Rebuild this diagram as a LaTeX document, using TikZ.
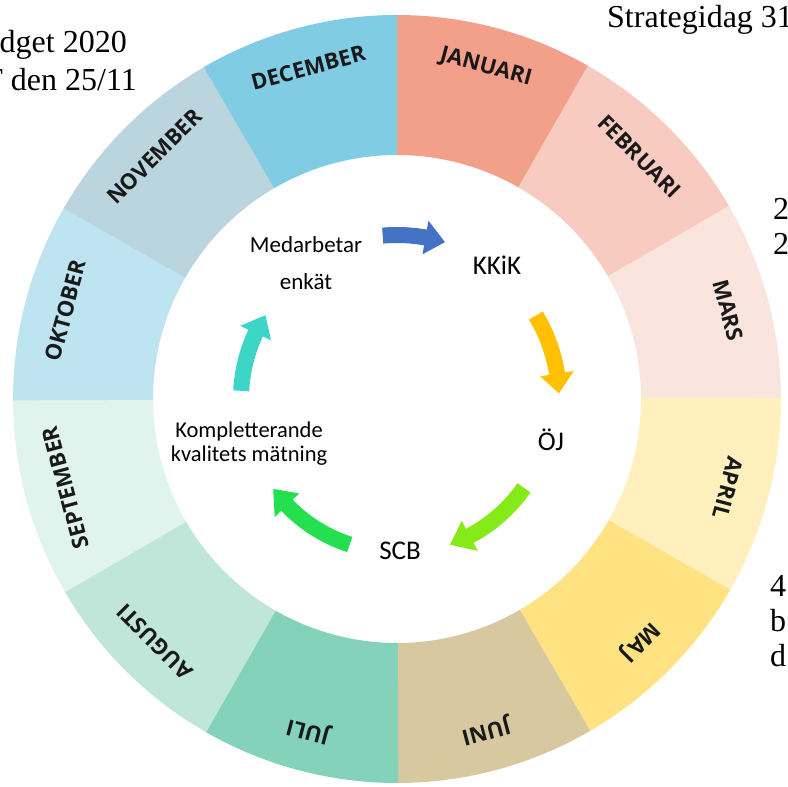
\documentclass[tikz,border=0pt]{standalone}
\usepackage{fontspec}
\setmainfont{Liberation Serif}
\newfontfamily\calfont{Carlito}
\newfontfamily\osfont{Open Sans}
\definecolor{cJan}{HTML}{F2A08A}
\definecolor{cFeb}{HTML}{F7CBBF}
\definecolor{cMar}{HTML}{F9E5DE}
\definecolor{cApr}{HTML}{FFF0BE}
\definecolor{cMaj}{HTML}{FFE282}
\definecolor{cJun}{HTML}{D8C8A0}
\definecolor{cJul}{HTML}{84D2B9}
\definecolor{cAug}{HTML}{C0E6D9}
\definecolor{cSep}{HTML}{E0F3EC}
\definecolor{cOkt}{HTML}{BEE3F1}
\definecolor{cNov}{HTML}{BAD5DE}
\definecolor{cDec}{HTML}{80CCE4}
\definecolor{aBlue}{HTML}{4472C4}
\definecolor{aGold}{HTML}{FFC000}
\definecolor{aLime}{HTML}{86EA18}
\definecolor{aGreen}{HTML}{24E04F}
\definecolor{aTeal}{HTML}{3DD5C6}
\newcommand\cycarrow[6]{% name, color, radius, start, base, tip
  \coordinate (#1s) at ({#4}:{#3});
  \coordinate (#1t) at ({#6}:{#3});
  \draw[line width=16pt, #2] (#1s) arc[start angle=#4, end angle={#5-0.6}, radius=#3];
  \fill[#2] ({#5}:{#3+17}) -- (#1t) -- ({#5}:{#3-17}) -- cycle;}
\begin{document}
\begin{tikzpicture}[x=1pt,y=1pt,
  month/.style={font=\osfont\bfseries\fontsize{22}{26}\selectfont, text=black!90, inner sep=0pt},
  innertxt/.style={font=\calfont\fontsize{23}{37}\selectfont, align=center, inner sep=0pt},
  smalltxt/.style={font=\calfont\fontsize{22.5}{24}\selectfont, align=center, inner sep=0pt},
  bigtxt/.style={font=\calfont\fontsize{27}{32}\selectfont, inner sep=0pt},
  side/.style={font=\fontsize{32}{36}\selectfont, inner sep=0pt}]
\useasboundingbox (0,0) rectangle (788,787);
\clip (0,0) rectangle (788,787);
\begin{scope}[shift={(397,388)}]
  \foreach \a/\c in {60/cJan,30/cFeb,0/cMar,-30/cApr,-60/cMaj,-90/cJun,-120/cJul,-150/cAug,-180/cSep,-210/cOkt,-240/cNov,-270/cDec} {
    \fill[\c] (\a:384) arc[start angle=\a, end angle=\a+30.2, radius=384]
      -- ({\a+30.2}:244) arc[start angle=\a+30.2, end angle=\a, radius=244] -- cycle;
  }
  \foreach \t [count=\i] in {JANUARI,FEBRUARI,MARS,APRIL,MAJ,JUNI,JULI,AUGUSTI,SEPTEMBER,OKTOBER,NOVEMBER,DECEMBER} {
    \node[month, rotate={75-30*(\i-1)-90}] (m\i) at ({75-30*(\i-1)}:343) {\t};
  }
  \cycarrow{ab}{aBlue}{164}{95}{80}{73}
  \cycarrow{ay}{aGold}{162}{31}{9}{2}
  \cycarrow{al}{aLime}{155}{-35}{-62}{-70}
  \cycarrow{ag}{aGreen}{153}{-108}{-136}{-144}
  \cycarrow{at}{aTeal}{156}{177}{155}{147.5}
\end{scope}
\node[innertxt] (med) at (306,524) {Medarbetar\\enkät};
\node[bigtxt] (kkik) at (497,522) {KKiK};
\node[bigtxt] (oj) at (551,347) {ÖJ};
\node[bigtxt] (scb) at (400,236) {SCB};
\node[smalltxt] (komp) at (249,343) {Kompletterande\\kvalitets mätning};
\node[side, anchor=base east] (t1) at (127,734) {dget 2020};
\node[side, anchor=base east] (t2) at (137,696) {T den 25/11};
\node[side, anchor=base west] (t3) at (607,759) {Strategidag 31};
\node[side, anchor=base west] (t4) at (773,567) {2};
\node[side, anchor=base west] (t5) at (773,532) {2};
\node[side, anchor=base west] (t6) at (770,190) {4};
\node[side, anchor=base west] (t7) at (770,155) {b};
\node[side, anchor=base west] (t8) at (770,120) {d};
\end{tikzpicture}
\end{document}
